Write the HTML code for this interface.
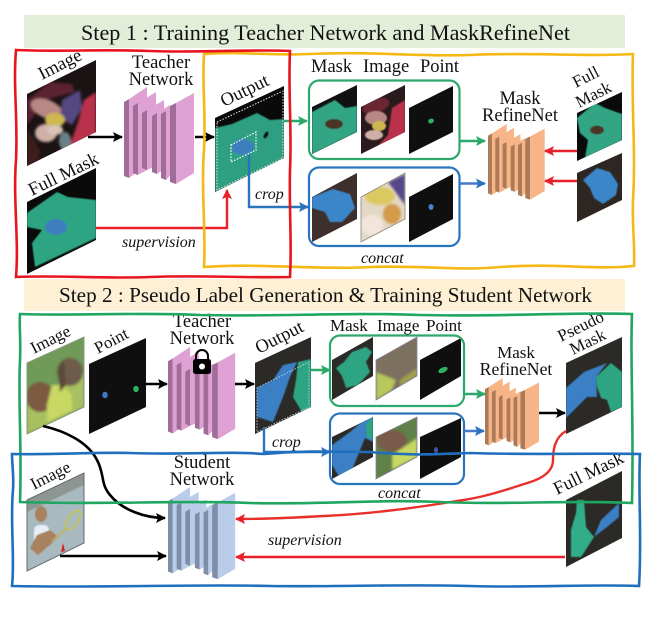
<!DOCTYPE html>
<html><head><meta charset="utf-8"><style>
html,body{margin:0;padding:0;background:#fff}
svg{display:block;filter:blur(.35px)}
text{font-family:"Liberation Serif",serif;fill:#111;font-size:18.5px}
.i{font-style:italic;font-size:16px}
.s{font-size:17px}
.c{text-anchor:middle}
.l{fill:var(--l)}.d{fill:var(--d)}
.a{fill:none;stroke-width:2.4}
</style></head><body>
<svg width="654" height="621" viewBox="0 0 654 621" xmlns="http://www.w3.org/2000/svg">
<defs>
<filter id="b" x="-10%" y="-10%" width="120%" height="120%"><feGaussianBlur stdDeviation="1.3"/></filter>
<filter id="b2" x="-10%" y="-10%" width="120%" height="120%"><feGaussianBlur stdDeviation=".6"/></filter>
<g id="net">
<polygon class="d" points="124,102 129,99 129,178 124,176"/><polygon class="l" points="129,99 147,87 147,165 129,178"/>
<polygon class="d" points="133,106 138,103 138,175 133,173"/><polygon class="l" points="138,103 156,92 156,165 138,175"/>
<polygon class="d" points="142,113 147,110 147,170 142,168"/><polygon class="l" points="147,110 164,100 164,162 147,170"/>
<polygon class="d" points="152,116 157,113 157,174 152,172"/><polygon class="l" points="157,113 170,105 170,165 157,174"/>
<polygon class="d" points="161,114 166,111 166,180 161,178"/><polygon class="l" points="166,111 175,106 175,170 166,180"/>
<polygon class="d" points="170,106 176,103 176,184 170,182"/><polygon class="l" points="176,103 194,93 194,173 176,184"/>
</g>
<marker id="mk" markerUnits="userSpaceOnUse" markerWidth="12" markerHeight="12" refX="9" refY="5" orient="auto"><path d="M0 0L10 5L0 10L2 5Z" fill="#000"/></marker>
<marker id="mr" markerUnits="userSpaceOnUse" markerWidth="12" markerHeight="12" refX="9" refY="5" orient="auto"><path d="M0 0L10 5L0 10L2 5Z" fill="#e8202a"/></marker>
<marker id="mg" markerUnits="userSpaceOnUse" markerWidth="12" markerHeight="12" refX="9" refY="5" orient="auto"><path d="M0 0L10 5L0 10L2 5Z" fill="#2ca86a"/></marker>
<marker id="mb" markerUnits="userSpaceOnUse" markerWidth="12" markerHeight="12" refX="9" refY="5" orient="auto"><path d="M0 0L10 5L0 10L2 5Z" fill="#2a74bd"/></marker>
<clipPath id="c1"><polygon points="27,94 96,60 96,132 27,166"/></clipPath>
<clipPath id="c2"><polygon points="27,202 96,168 96,240 27,274"/></clipPath>
<clipPath id="c3"><polygon points="215,118 284,86 284,158 215,192"/></clipPath>
<clipPath id="c4"><polygon points="312,107 357,85 357,132 312,154"/></clipPath>
<clipPath id="c5"><polygon points="361,107 405,85 405,132 361,154"/></clipPath>
<clipPath id="c6"><polygon points="312,197 357,173 357,219 312,242"/></clipPath>
<clipPath id="c7"><polygon points="361,197 405,173 405,219 361,242"/></clipPath>
<clipPath id="c8"><polygon points="577,113 622,92 622,140 577,161"/></clipPath>
<clipPath id="c9"><polygon points="577,173 622,153 622,200 577,222"/></clipPath>
<clipPath id="d1"><polygon points="27,363 84,337 84,407 27,434"/></clipPath>
<clipPath id="d2"><polygon points="255,363 311,337 311,407 255,434"/></clipPath>
<clipPath id="d3"><polygon points="332,360 373,337 373,376 332,400"/></clipPath>
<clipPath id="d4"><polygon points="376,360 417,337 417,376 376,400"/></clipPath>
<clipPath id="d5"><polygon points="332,437 373,417 373,457 332,479"/></clipPath>
<clipPath id="d6"><polygon points="376,437 417,417 417,457 376,479"/></clipPath>
<clipPath id="d7"><polygon points="566,363 622,337 622,407 566,434"/></clipPath>
<clipPath id="d8"><polygon points="566,500 622,471 622,538 566,567"/></clipPath>
<clipPath id="d9"><polygon points="27,500 84,473 84,543 27,571"/></clipPath>
</defs>

<rect x="24" y="15" width="601" height="33" fill="#e3eed9"/>
<rect x="24" y="279" width="601" height="32" fill="#fdf0d5"/>
<text x="81" y="40" style="font-size:22px" textLength="489" lengthAdjust="spacingAndGlyphs">Step 1 : Training Teacher Network and MaskRefineNet</text>
<text x="59" y="302" style="font-size:21px" textLength="533" lengthAdjust="spacingAndGlyphs">Step 2 : Pseudo Label Generation &amp; Training Student Network</text>

<!-- Step 1 images -->
<g clip-path="url(#c1)"><rect x="27" y="60" width="69" height="106" fill="#1a1213"/><g filter="url(#b)">
<polygon points="27,100 50,82 72,84 75,92 45,100 27,125" fill="#5a2230"/>
<ellipse cx="47" cy="109" rx="17" ry="9" fill="#b88884" transform="rotate(22 47 109)"/>
<polygon points="62,100 80,90 82,108 72,125 60,118" fill="#554680"/>
<polygon points="96,92 84,100 78,122 70,145 40,165 96,135" fill="#b8324c"/>
<polygon points="27,128 40,150 38,166 27,166" fill="#3e1a1c"/>
<ellipse cx="46" cy="133" rx="11" ry="9" fill="#d0b0a6"/>
<ellipse cx="55" cy="120" rx="10" ry="7" fill="#cdb850"/>
<ellipse cx="55" cy="130" rx="8" ry="5" fill="#d8c4b8"/>
<ellipse cx="65" cy="141" rx="6" ry="9" fill="#6a8088"/></g></g>
<g clip-path="url(#c2)"><rect x="27" y="168" width="69" height="106" fill="#0a0a0a"/><g filter="url(#b2)">
<path d="M27 213L57 192L68 197L96 200V238L35 267L32 243L42 230L27 227Z" fill="#2fa582"/>
<ellipse cx="56" cy="227" rx="11" ry="8" fill="#3d7fbe"/></g></g>
<g clip-path="url(#c3)"><rect x="215" y="86" width="69" height="106" fill="#0a0a0a"/><g filter="url(#b2)">
<path d="M215 128L232 124L257 113L270 120L284 119V158L215 192Z" fill="#2f9f80"/>
<ellipse cx="243" cy="147" rx="11" ry="8" fill="#3d7fbe"/>
<ellipse cx="266" cy="135" rx="2" ry="4" fill="#111" transform="rotate(30 266 135)"/></g></g>
<polygon points="217,122 283,91 283,158 217,190" fill="none" stroke="#e8e8e8" stroke-width="1" stroke-dasharray="1.5 1.5"/>
<polygon points="231,145 256,132 256,150 231,162" fill="none" stroke="#fff" stroke-width="1.2" stroke-dasharray="1.5 1.5"/>

<g clip-path="url(#c4)"><rect x="312" y="85" width="45" height="70" fill="#111"/><g filter="url(#b2)">
<path d="M312 112L335 100L345 108L357 106V132L312 154Z" fill="#30a684"/><ellipse cx="334" cy="124" rx="9" ry="5" fill="#4a3528"/></g></g>
<g clip-path="url(#c5)"><rect x="361" y="85" width="44" height="70" fill="#2a1a1e"/><g filter="url(#b2)">
<ellipse cx="376" cy="106" rx="14" ry="7" fill="#6a2533" transform="rotate(-20 376 106)"/>
<ellipse cx="376" cy="118" rx="11" ry="7" fill="#b88884"/>
<polygon points="405,100 392,108 388,135 370,154 405,132" fill="#b8324c"/>
<ellipse cx="379" cy="126" rx="7" ry="5" fill="#cdb850"/><ellipse cx="374" cy="135" rx="9" ry="5" fill="#d0b0a6"/></g></g>
<polygon points="409,108 453,86 453,132 409,154" fill="#0f0f0f"/>
<ellipse cx="431" cy="121" rx="3" ry="2.4" fill="#2fb060" transform="rotate(-25 431 121)"/>

<g clip-path="url(#c6)"><rect x="312" y="173" width="45" height="70" fill="#3d2f2c"/><g filter="url(#b2)">
<path d="M312 197L333 189L350 194L355 208L342 222L330 222L325 212L312 208Z" fill="#3a86c8"/></g></g>
<g clip-path="url(#c7)"><rect x="361" y="173" width="44" height="70" fill="#e3d8c6"/><g filter="url(#b)">
<ellipse cx="380" cy="196" rx="15" ry="9" fill="#dcc860"/>
<polygon points="388,182 405,174 405,205" fill="#54478a"/>
<ellipse cx="392" cy="214" rx="9" ry="10" fill="#d29a4a"/>
<ellipse cx="372" cy="225" rx="11" ry="10" fill="#f2e6dc"/></g></g>
<polygon points="361,197 405,173 405,219 361,242" fill="none" stroke="#887" stroke-width=".8"/>
<polygon points="409,197 453,174 453,219 409,242" fill="#0f0f0f"/>
<ellipse cx="431" cy="207" rx="2.5" ry="3" fill="#4f7fd0"/>

<g clip-path="url(#c8)"><rect x="577" y="92" width="45" height="70" fill="#0a0a0a"/><g filter="url(#b2)">
<path d="M577 118L595 103L605 108L622 114V140L585 158L588 140L580 133Z" fill="#30a684"/><ellipse cx="597" cy="130" rx="7" ry="4.5" fill="#4a3528"/></g></g>
<g clip-path="url(#c9)"><rect x="577" y="153" width="45" height="70" fill="#2e2622"/><g filter="url(#b2)">
<path d="M583 180L597 168L610 172L618 184L616 195L603 204L594 198L590 188Z" fill="#3a86c8"/></g></g>

<!-- Rounded groups step 1 -->
<rect x="309" y="80.5" width="150.5" height="78.5" rx="10" fill="none" stroke="#2ca86a" stroke-width="2.2"/>
<rect x="309" y="167.5" width="150.5" height="78.5" rx="10" fill="none" stroke="#2a74bd" stroke-width="2.2"/>

<!-- Networks -->
<use href="#net" style="--l:#dfa0d3;--d:#a06c98"/>
<use href="#net" transform="translate(488 124) scale(.81 .78) translate(-124 -87)" style="--l:#f7b486;--d:#ad7a58"/>
<use href="#net" transform="translate(168 347) scale(.96 .95) translate(-124 -87)" style="--l:#dfa0d3;--d:#a06c98"/>
<use href="#net" transform="translate(485 378) scale(.77 .74) translate(-124 -87)" style="--l:#f7b486;--d:#ad7a58"/>
<use href="#net" transform="translate(168 487) scale(.96 .95) translate(-124 -87)" style="--l:#b9cdea;--d:#7f8ea8"/>

<!-- Lock -->
<path d="M196 360V356A6 6 0 0 1 208 356V360" fill="none" stroke="#000" stroke-width="2"/>
<rect x="193" y="359" width="18" height="15" rx="2.5" fill="#000"/><circle cx="202" cy="366.5" r="3" fill="#fff"/>

<!-- Step 2 images -->
<g clip-path="url(#d1)"><rect x="27" y="337" width="57" height="97" fill="#6f9a58"/><g filter="url(#b)">
<polygon points="27,400 84,372 84,407 27,434" fill="#a8c060"/>
<ellipse cx="40" cy="397" rx="14" ry="15" fill="#7d5a42"/><ellipse cx="70" cy="372" rx="13" ry="14" fill="#6e5c4c"/>
<polygon points="47,405 52,385 62,385 72,395 72,410 47,422" fill="#c8d862"/>
<polygon points="58,368 64,360 66,385 60,392" fill="#5a4838"/></g></g>
<polygon points="27,363 84,337 84,407 27,434" fill="none" stroke="#8a9a80" stroke-width="1"/>
<polygon points="89,364 146,338 146,407 89,434" fill="#0f0f0f"/>
<ellipse cx="105" cy="395" rx="2.8" ry="3.2" fill="#3f78c8"/><ellipse cx="136" cy="389" rx="2.8" ry="3.2" fill="#2fb060"/>
<g clip-path="url(#d2)"><rect x="255" y="337" width="56" height="97" fill="#2b2a26"/><g filter="url(#b2)">
<path d="M257 388L273 380L283 365L297 362L290 377L283 397L273 422L257 417Z" fill="#3a80c4"/>
<path d="M298 362L311 359V407L302 412L293 397L296 380Z" fill="#2fa582"/></g></g>
<polygon points="257,388 309,362 309,407 257,432" fill="none" stroke="#cde" stroke-width=".8" stroke-dasharray="1.5 1.5"/>

<g clip-path="url(#d3)"><rect x="332" y="337" width="41" height="63" fill="#2c2a26"/><g filter="url(#b2)">
<path d="M336 368L344 362L352 352L366 347L372 352L366 362L370 372L358 385L346 388L342 376Z" fill="#2fa582"/></g></g>
<g clip-path="url(#d4)"><rect x="376" y="337" width="41" height="63" fill="#7c705f"/><g filter="url(#b)">
<polygon points="376,372 396,380 392,390 376,400" fill="#b8c85a"/>
<polygon points="400,380 417,368 417,376 400,386" fill="#a0a050"/></g></g>
<polygon points="376,360 417,337 417,376 376,400" fill="none" stroke="#889" stroke-width=".8"/>
<polygon points="420,360 461,338 461,376 420,400" fill="#0f0f0f"/>
<ellipse cx="443" cy="370" rx="5" ry="2.6" fill="#2fb060" transform="rotate(-25 443 370)"/>
<g clip-path="url(#d5)"><rect x="332" y="417" width="41" height="63" fill="#2c2a26"/><g filter="url(#b2)">
<path d="M332 445L350 432L364 420L373 416V442L365 438L358 455L352 470L340 478L332 465Z" fill="#3a80c4"/>
<polygon points="366,424 373,417 373,440 367,437" fill="#2fa582"/></g></g>
<g clip-path="url(#d6)"><rect x="376" y="417" width="41" height="63" fill="#5f8048"/><g filter="url(#b)">
<ellipse cx="392" cy="441" rx="15" ry="11" fill="#7a5a48"/>
<polygon points="392,455 417,438 417,457 392,470" fill="#c8d862"/></g></g>
<polygon points="376,437 417,417 417,457 376,479" fill="none" stroke="#889" stroke-width=".8"/>
<polygon points="420,437 461,418 461,457 420,479" fill="#0f0f0f"/>
<ellipse cx="436" cy="450" rx="2" ry="3" fill="#3f58a8"/>
<rect x="330" y="335.5" width="134" height="70.5" rx="10" fill="none" stroke="#2ca86a" stroke-width="2.2"/>
<rect x="330" y="413.5" width="134" height="70.5" rx="10" fill="none" stroke="#2a74bd" stroke-width="2.2"/>

<g clip-path="url(#d7)"><rect x="566" y="337" width="56" height="97" fill="#2b2a26"/><g filter="url(#b2)">
<path d="M566 388L584 372L607 363L596 377L597 397L587 397L566 418Z" fill="#3a80c4"/>
<path d="M596 377L611 363L622 372V407L611 412L607 400L601 398L597 387Z" fill="#2fa582"/></g></g>
<g clip-path="url(#d8)"><rect x="566" y="471" width="56" height="97" fill="#2b2a26"/><g filter="url(#b2)">
<path d="M577 500L584 500L586 527L594 537L581 557L571 557L571 530L576 513Z" fill="#32ad8a"/>
<path d="M594 537L601 520L619 503V517L607 527Z" fill="#3a80c4"/></g></g>
<g clip-path="url(#d9)"><rect x="27" y="473" width="57" height="98" fill="#a8bac0"/><g filter="url(#b2)">
<polygon points="27,500 84,473 84,485 27,512" fill="#8d9690"/>
<ellipse cx="41" cy="514" rx="6" ry="8" fill="#a8825e"/><rect x="34" y="525" width="15" height="24" rx="5" fill="#e8eef8"/>
<polygon points="37,535 30,548 38,555 50,545 58,537 50,530" fill="#a8825e"/>
<ellipse cx="73" cy="520" rx="5" ry="11" fill="none" stroke="#c8c83a" stroke-width="1.5" transform="rotate(35 73 520)"/>
<line x1="67" y1="528" x2="52" y2="541" stroke="#c8b050" stroke-width="1.5"/></g>
<polygon points="61,552 63,543 65,551" fill="#d82020"/></g>
<polygon points="27,500 84,473 84,543 27,571" fill="none" stroke="#667" stroke-width="1"/>

<!-- Connectors -->
<path class="a" d="M88 137H122" stroke="#000" marker-end="url(#mk)"/>
<path class="a" d="M195 137H214" stroke="#000" marker-end="url(#mk)"/>
<path class="a" d="M284 121H307" stroke="#2ca86a" marker-end="url(#mg)"/>
<path class="a" d="M96 228H227V190" stroke="#e8202a" marker-end="url(#mr)"/>
<path class="a" d="M249 155V207H308" stroke="#2a74bd" marker-end="url(#mb)"/>
<path class="a" d="M460 141H485" stroke="#2ca86a" marker-end="url(#mg)"/>
<path class="a" d="M460 183.5H485" stroke="#4478c8" marker-end="url(#mb)"/>
<path class="a" d="M577 151H545" stroke="#e8202a" marker-end="url(#mr)"/>
<path class="a" d="M577 181H545" stroke="#e8202a" marker-end="url(#mr)"/>
<path class="a" d="M146 384H167" stroke="#000" marker-end="url(#mk)"/>
<path class="a" d="M235 384H254" stroke="#000" marker-end="url(#mk)"/>
<path class="a" d="M311 370H330" stroke="#2ca86a" marker-end="url(#mg)"/>
<path class="a" d="M264 427V452H330" stroke="#2a74bd" marker-end="url(#mb)"/>
<path class="a" d="M464 394H485" stroke="#2ca86a" marker-end="url(#mg)"/>
<path class="a" d="M464 431H484" stroke="#4478c8" marker-end="url(#mb)"/>
<path class="a" d="M539 413H565" stroke="#000" marker-end="url(#mk)"/>
<path class="a" d="M566 431C556 437 553 447 553 460C553 475 535 481 524 484C500 492 480 498 457 501C415 508 370 514 324 516C290 518 262 519 236 519" stroke="#e8302a" marker-end="url(#mr)"/>
<path class="a" d="M565 557H236" stroke="#e8202a" marker-end="url(#mr)"/>
<path class="a" d="M43 426C65 431 88 442 97 460C105 475 100 483 110 495C122 510 145 518 165 518" stroke="#000" style="stroke-width:2.6" marker-end="url(#mk)"/>
<path class="a" d="M60 556H166" stroke="#000" marker-end="url(#mk)"/>

<!-- Labels -->
<text x="161" y="68" class="c">Teacher</text><text x="161" y="85" class="c">Network</text>
<text x="520" y="104" class="c">Mask</text><text x="520" y="121" class="c">RefineNet</text>
<text x="311" y="72">Mask</text><text x="363" y="72">Image</text><text x="420" y="72">Point</text>
<text x="42" y="80" transform="rotate(-27 42 80)">Image</text>
<text x="32" y="196" transform="rotate(-26 32 196)">Full Mask</text>
<text x="224" y="107" transform="rotate(-26 224 107)">Output</text>
<text x="576" y="88" transform="rotate(-27 576 88)" class="s">Full</text>
<text x="579" y="108" transform="rotate(-27 579 108)" class="s">Mask</text>
<text x="255" y="199" class="i">crop</text>
<text x="122" y="247" class="i">supervision</text>
<text x="361" y="263" class="i">concat</text>

<text x="202" y="327" class="c">Teacher</text><text x="202" y="344" class="c">Network</text>
<text x="202" y="468" class="c">Student</text><text x="202" y="485" class="c">Network</text>
<text x="516" y="358" class="c s">Mask</text><text x="516" y="375" class="c" style="font-size:17.7px">RefineNet</text>
<text x="330" y="331" class="s">Mask</text><text x="377" y="331" class="s">Image</text><text x="426" y="331" class="s">Point</text>
<text x="34" y="354" transform="rotate(-27 34 354)" class="s">Image</text>
<text x="98" y="354" transform="rotate(-28 98 354)" class="s">Point</text>
<text x="259" y="354" transform="rotate(-27 259 354)">Output</text>
<text x="34" y="490" transform="rotate(-27 34 490)" class="s">Image</text>
<text x="561" y="342" transform="rotate(-26 561 342)" class="s">Pseudo</text>
<text x="573" y="355" transform="rotate(-26 573 355)" class="s">Mask</text>
<text x="557" y="495" transform="rotate(-26 557 495)">Full Mask</text>
<text x="272" y="447" class="i">crop</text>
<text x="268" y="545" class="i">supervision</text>
<text x="378" y="498" class="i">concat</text>

<!-- Hand-drawn borders -->
<path class="a" stroke="#f5b916" style="stroke-width:2.6" d="M204 54C240 51 270 56 310 54C370 51 420 57 470 55C530 52 590 57 633 54C631 100 636 150 633 200C632 225 635 245 634 266C590 270 560 263 500 267C460 271 420 265 370 267C320 270 260 263 204 267C206 230 201 190 204 150C206 115 202 85 204 54Z"/>
<path class="a" stroke="#e8141e" style="stroke-width:2.6" d="M16 50C60 52 100 49 150 51C200 53 250 49 290 51C288 90 292 130 290 170C289 210 292 245 290 277C240 278 200 275 150 277C100 279 60 275 16 277C19 240 13 200 16 160C18 120 13 85 16 50Z"/>
<path class="a" stroke="#1fa660" style="stroke-width:2.6" d="M20 314C80 316 140 312 200 315C280 317 340 312 420 315C500 317 570 312 632 314C630 360 634 420 632 503C570 500 500 505 440 502C380 499 320 505 250 503C180 500 100 505 20 502C22 450 18 400 20 360C21 340 19 325 20 314Z"/>
<path class="a" stroke="#1f6fbd" style="stroke-width:2.6" d="M12 454C60 455 90 452 130 453C180 455 230 451 264 454C310 450 340 452 370 452C410 456 440 454 470 453C530 455 590 453 640 454C638 490 642 540 639 586C590 584 530 588 470 586C400 584 340 587 270 586C190 584 100 588 12 586C15 560 10 520 13 490C14 475 12 465 12 454Z"/>
</svg>
</body></html>
